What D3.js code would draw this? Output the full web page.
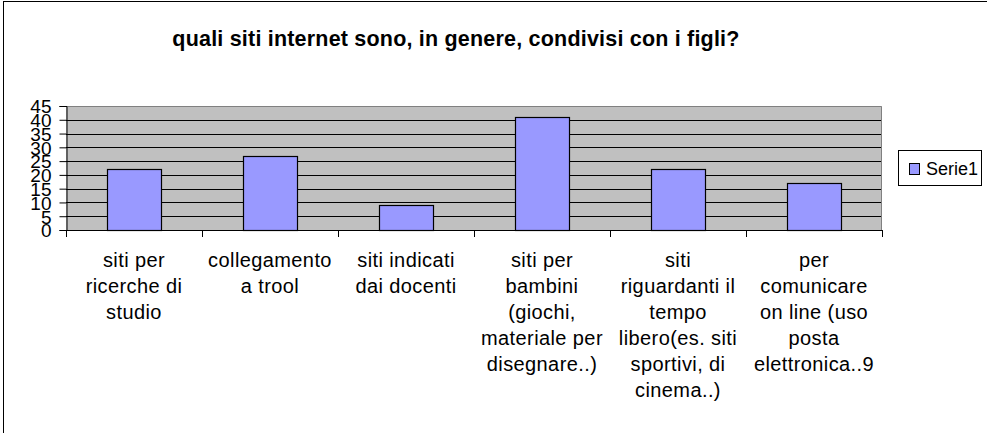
<!DOCTYPE html>
<html>
<head>
<meta charset="utf-8">
<script src="https://cdn.jsdelivr.net/npm/d3@7"></script>
<style>
  body { margin: 0; background: #fff; }
  svg { display: block; font-family: Arial, "Liberation Sans", sans-serif; }
</style>
</head>
<body>
<svg id="chart" width="987" height="433"></svg>
<script>
// chart data
const categories = [
  "siti per ricerche di studio",
  "collegamento a trool",
  "siti indicati dai docenti",
  "siti per bambini (giochi, materiale per disegnare..)",
  "siti riguardanti il tempo libero(es. siti sportivi, di cinema..)",
  "per comunicare on line (uso posta elettronica..9"
];
// wrapped tick labels, as they break in the picture
const categoryLines = [
  ["siti per", "ricerche di", "studio"],
  ["collegamento", "a trool"],
  ["siti indicati", "dai docenti"],
  ["siti per", "bambini", "(giochi,", "materiale per", "disegnare..)"],
  ["siti", "riguardanti il", "tempo", "libero(es. siti", "sportivi, di", "cinema..)"],
  ["per", "comunicare", "on line (uso", "posta", "elettronica..9"]
];
const serie1 = [22, 27, 9, 41, 22, 17];
const yTicks = [0, 5, 10, 15, 20, 25, 30, 35, 40, 45];
const seriesName = "Serie1";
const title = "quali siti internet sono, in genere, condivisi con i figli?";

const svg = d3.select("#chart");

// outer frame (runs off right and bottom edge)
svg.append("rect")
  .attr("x", 3.5).attr("y", 1.5)
  .attr("width", 1200).attr("height", 1200)
  .attr("fill", "none").attr("stroke", "#000");

const plot = { left: 66, right: 882, top: 106, bottom: 230 };

const x = d3.scaleBand()
  .domain(categories)
  .range([plot.left, plot.right])
  .paddingInner(0.6).paddingOuter(0.3);

const xCat = d3.scaleBand()
  .domain(categories)
  .range([plot.left, plot.right]);

const y = d3.scaleLinear().domain([0, 45]).range([plot.bottom, plot.top]);

// plot background
svg.append("rect")
  .attr("x", plot.left).attr("y", plot.top)
  .attr("width", plot.right - plot.left).attr("height", plot.bottom - plot.top)
  .attr("fill", "#c0c0c0");

// gridlines
svg.append("g")
  .selectAll("line")
  .data(yTicks.filter(t => t > 0 && t < 45))
  .join("line")
  .attr("x1", plot.left).attr("x2", plot.right)
  .attr("y1", d => Math.round(y(d)) + 0.5).attr("y2", d => Math.round(y(d)) + 0.5)
  .attr("stroke", "#000");

// plot border top/right (gray)
svg.append("path")
  .attr("d", `M${plot.left},${plot.top + 0.5}H${plot.right - 0.5}V${plot.bottom}`)
  .attr("fill", "none").attr("stroke", "#808080");

// bars
svg.append("g")
  .selectAll("rect")
  .data(serie1)
  .join("rect")
  .attr("x", (d, i) => Math.round(x(categories[i])) + 0.5)
  .attr("y", d => Math.round(y(d)) + 0.5)
  .attr("width", Math.round(x.bandwidth()))
  .attr("height", d => Math.round(y(0)) - Math.round(y(d)))
  .attr("fill", "#9999ff")
  .attr("stroke", "#000")
  .attr("stroke-width", 1.2);

// y axis
const yAxis = svg.append("g")
  .attr("transform", `translate(${plot.left + 0.5},0)`)
  .call(d3.axisLeft(y).tickValues(yTicks).tickSize(7).tickPadding(8));
yAxis.select(".domain").attr("stroke", "#000");
yAxis.selectAll(".tick line").attr("stroke", "#000");
yAxis.selectAll(".tick text")
  .attr("font-size", 19)
  .attr("font-family", "Arial, 'Liberation Sans', sans-serif")
  .attr("fill", "#000")
  .attr("dy", "0.36em");

// x axis
const xAxis = svg.append("g")
  .attr("transform", `translate(0,${plot.bottom + 0.5})`)
  .call(d3.axisBottom(xCat).tickSize(0).tickFormat(""));
xAxis.select(".domain").attr("stroke", "#000").attr("d", `M${plot.left},0H${plot.right}`);

// boundary ticks between categories
svg.append("g")
  .selectAll("line")
  .data(categories.concat(["end"]))
  .join("line")
  .attr("x1", (d, i) => Math.round(plot.left + i * xCat.step()) + 0.5)
  .attr("x2", (d, i) => Math.round(plot.left + i * xCat.step()) + 0.5)
  .attr("y1", plot.bottom).attr("y2", plot.bottom + 7)
  .attr("stroke", "#000");

// category labels
const labels = svg.append("g")
  .attr("font-size", 20)
  .attr("letter-spacing", 0.4)
  .attr("text-anchor", "middle")
  .attr("fill", "#000");
categories.forEach((c, i) => {
  const cx = xCat(c) + xCat.bandwidth() / 2;
  const t = labels.append("text").attr("x", cx).attr("y", 267);
  t.selectAll("tspan")
    .data(categoryLines[i])
    .join("tspan")
    .attr("x", cx)
    .attr("dy", (d, j) => j === 0 ? 0 : 26)
    .text(d => d);
});

// title
svg.append("text")
  .attr("x", 456).attr("y", 46)
  .attr("text-anchor", "middle")
  .attr("font-size", 21.5)
  .attr("font-weight", "bold")
  .attr("letter-spacing", 0.2)
  .text(title);

// legend
const legend = svg.append("g");
legend.append("rect")
  .attr("x", 898.5).attr("y", 150.5)
  .attr("width", 83).attr("height", 35)
  .attr("fill", "#fff").attr("stroke", "#000");
legend.append("rect")
  .attr("x", 909.5).attr("y", 163.5)
  .attr("width", 10).attr("height", 11)
  .attr("fill", "#9999ff").attr("stroke", "#000");
legend.append("text")
  .attr("x", 926).attr("y", 174.5)
  .attr("font-size", 18)
  .text(seriesName);
</script>
</body>
</html>
